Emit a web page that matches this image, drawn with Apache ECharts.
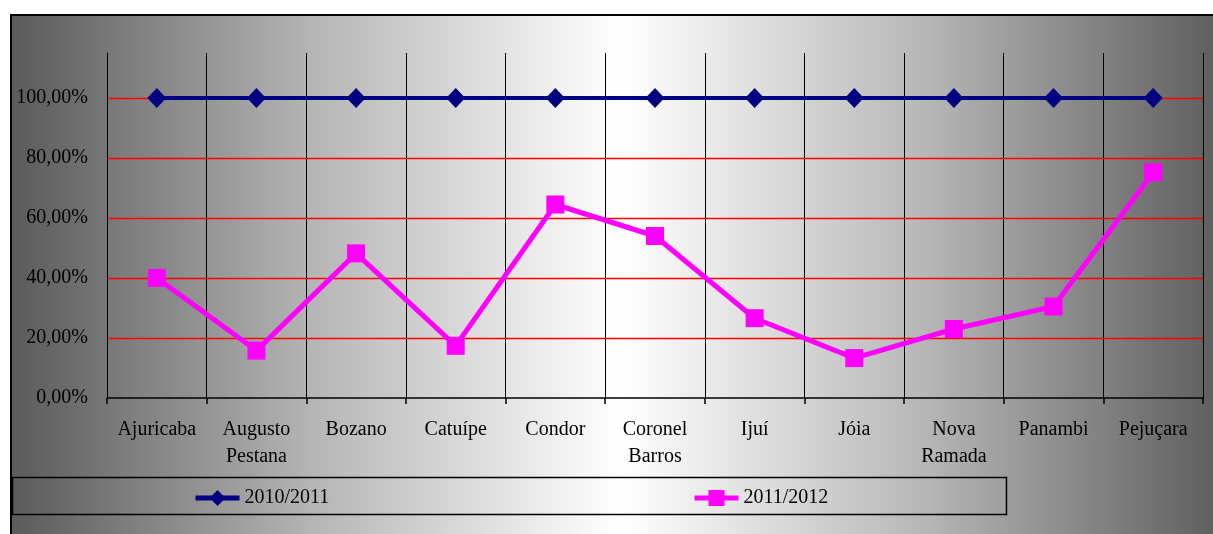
<!DOCTYPE html>
<html>
<head>
<meta charset="utf-8">
<script src="https://cdn.jsdelivr.net/npm/echarts@6/dist/echarts.min.js"></script>
<style>
  html, body { margin: 0; padding: 0; background: #fff; }
  #chart { width: 1213px; height: 534px; }
</style>
</head>
<body>
<div id="chart"></div>
<script>
// Municipalities on the category axis
const municipios = ['Ajuricaba', 'Augusto\nPestana', 'Bozano', 'Catuípe', 'Condor', 'Coronel\nBarros', 'Ijuí', 'Jóia', 'Nova\nRamada', 'Panambi', 'Pejuçara'];

// Percentages per harvest
const safra2010_2011 = [100, 100, 100, 100, 100, 100, 100, 100, 100, 100, 100];
const safra2011_2012 = [40.0, 15.8, 48.2, 17.4, 64.5, 54.0, 26.6, 13.3, 23.0, 30.5, 75.2];

const serieNomes = ['2010/2011', '2011/2012'];

// Y axis: 0–100 labelled in steps of 20, with headroom above
const yMin = 0, yMax = 115, yStep = 20;

const font = 'Liberation Serif, Times New Roman, serif';
const chart = echarts.init(document.getElementById('chart'));

const fmtPct = v => (v % yStep === 0) ? v.toFixed(2).replace('.', ',') + '%' : '';

const legendBase = {
  top: 488, padding: 0,
  itemWidth: 44, itemHeight: 20, itemGap: 6,
  lineStyle: { width: 5 },
  textStyle: { fontFamily: font, fontSize: 20, color: '#000' }
};

chart.setOption({
  animation: false,
  textStyle: { fontFamily: font },
  graphic: {
    elements: [
      {
        type: 'rect', z: -10, silent: true,
        shape: { x: 11, y: 15, width: 1220, height: 530 },
        style: {
          fill: new echarts.graphic.LinearGradient(0, 0, 1, 0, [
            { offset: 0, color: '#5a5a5a' },
            { offset: 0.25, color: '#b6b6b6' },
            { offset: 0.5, color: '#ffffff' },
            { offset: 0.75, color: '#b6b6b6' },
            { offset: 1, color: '#5a5a5a' }
          ]),
          stroke: '#000', lineWidth: 2
        }
      },
      {
        type: 'rect', z: -5, silent: true,
        shape: { x: 12.5, y: 477.5, width: 994, height: 37 },
        style: { fill: 'none', stroke: '#000', lineWidth: 1.5 }
      }
    ]
  },
  grid: { left: 107, right: 10, top: 53, bottom: 136, containLabel: false },
  legend: [
    Object.assign({ data: [serieNomes[0]], left: 193 }, legendBase),
    Object.assign({ data: [serieNomes[1]], left: 692 }, legendBase)
  ],
  xAxis: {
    type: 'category',
    data: municipios,
    boundaryGap: true,
    axisLine: { lineStyle: { color: '#000', width: 1.5 } },
    axisTick: { show: true, length: 6, lineStyle: { color: '#000', width: 1.5 } },
    splitLine: { show: true, lineStyle: { color: '#000', width: 1 } },
    axisLabel: {
      interval: 0, margin: 18, fontFamily: font, fontSize: 20, lineHeight: 27, color: '#000'
    }
  },
  yAxis: {
    type: 'value',
    min: yMin, max: yMax, interval: yStep,
    axisLine: { show: true, lineStyle: { color: '#000', width: 1 } },
    axisTick: { show: false },
    splitLine: {
      show: true,
      lineStyle: {
        color: ['rgba(0,0,0,0)', '#ff0000', '#ff0000', '#ff0000', '#ff0000', '#ff0000', 'rgba(0,0,0,0)'],
        width: 1.3
      }
    },
    axisLabel: {
      margin: 19, fontFamily: font, fontSize: 20, color: '#000',
      formatter: fmtPct
    }
  },
  series: [
    {
      name: serieNomes[0], type: 'line', data: safra2010_2011,
      symbol: 'diamond', symbolSize: [19, 20],
      lineStyle: { color: '#000080', width: 4 },
      itemStyle: { color: '#000080' },
      z: 3
    },
    {
      name: serieNomes[1], type: 'line', data: safra2011_2012,
      symbol: 'rect', symbolSize: 18,
      lineStyle: { color: '#ff00ff', width: 5 },
      itemStyle: { color: '#ff00ff' },
      z: 4
    }
  ]
});
</script>
</body>
</html>
